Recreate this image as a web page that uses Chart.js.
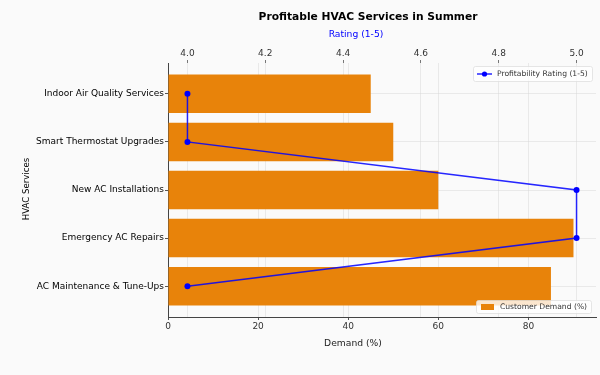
<!DOCTYPE html>
<html>
<head>
<meta charset="utf-8">
<script src="https://cdn.jsdelivr.net/npm/chart.js@4.4.1/dist/chart.umd.min.js"></script>
<style>
  html, body { margin: 0; padding: 0; background: #fafafa; }
  canvas { display: block; }
</style>
</head>
<body>
<canvas id="chart" width="600" height="375"></canvas>
<script>
// data
const services = [
  "Indoor Air Quality Services",
  "Smart Thermostat Upgrades",
  "New AC Installations",
  "Emergency AC Repairs",
  "AC Maintenance & Tune-Ups"
];
const demand = [45, 50, 60, 90, 85];
const rating = [4.0, 4.0, 5.0, 5.0, 4.0];
const demandTicks = [0, 20, 40, 60, 80];
const ratingTicks = [4.0, 4.2, 4.4, 4.6, 4.8, 5.0];

const FONT = "DejaVu Sans";
const ORANGE = "#e8830a";
const BLUE = "rgba(0,0,255,0.85)";
const GRID = "rgba(215,215,215,0.5)";

// titles, axis labels and the two in-plot legends
const textPlugin = {
  id: "texts",
  afterDraw(chart) {
    const ctx = chart.ctx;
    const area = chart.chartArea;
    ctx.save();
    ctx.textBaseline = "middle";
    ctx.textAlign = "center";

    ctx.fillStyle = "#000";
    ctx.font = "bold 10.7px '" + FONT + "'";
    ctx.fillText("Profitable HVAC Services in Summer", 368, 17);

    ctx.fillStyle = "#0000ff";
    ctx.font = "9.2px '" + FONT + "'";
    ctx.fillText("Rating (1-5)", 356, 35);

    ctx.fillStyle = "#222";
    ctx.fillText("Demand (%)", 353, 344);

    ctx.save();
    ctx.translate(27, 189);
    ctx.rotate(-Math.PI / 2);
    ctx.fillStyle = "#000";
    ctx.font = "8.6px '" + FONT + "'";
    ctx.fillText("HVAC Services", 0, 0);
    ctx.restore();

    // legend boxes
    ctx.font = "7.6px '" + FONT + "'";
    ctx.textAlign = "left";
    const box = (x, y, w, h) => {
      ctx.fillStyle = "rgba(255,255,255,0.8)";
      ctx.strokeStyle = "rgba(220,220,220,0.9)";
      ctx.lineWidth = 0.8;
      ctx.beginPath();
      ctx.roundRect(x + 0.5, y + 0.5, w, h, 2);
      ctx.fill();
      ctx.stroke();
    };

    let x = area.right - 123, y = area.top + 3;
    box(x, y, 119, 15);
    ctx.strokeStyle = BLUE;
    ctx.lineWidth = 1.5;
    ctx.beginPath();
    ctx.moveTo(x + 4, y + 8);
    ctx.lineTo(x + 19, y + 8);
    ctx.stroke();
    ctx.fillStyle = "#0000ff";
    ctx.beginPath();
    ctx.arc(x + 11.5, y + 8, 2.6, 0, Math.PI * 2);
    ctx.fill();
    ctx.fillStyle = "#333";
    ctx.fillText("Profitability Rating (1-5)", x + 24, y + 8);

    x = area.right - 120; y = area.bottom - 17;
    box(x, y, 115, 13);
    ctx.fillStyle = ORANGE;
    ctx.fillRect(x + 5, y + 4, 13, 6);
    ctx.fillStyle = "#333";
    ctx.fillText("Customer Demand (%)", x + 24, y + 7);

    ctx.restore();
  }
};

const ctx = document.getElementById("chart").getContext("2d");
new Chart(ctx, {
  data: {
    datasets: [
      {
        type: "line",
        label: "Profitability Rating (1-5)",
        data: rating.map((r, i) => ({ x: r, y: i })),
        indexAxis: "y",
        xAxisID: "x2",
        yAxisID: "y",
        borderColor: BLUE,
        backgroundColor: "#0000ff",
        borderWidth: 1.5,
        pointRadius: 3,
        pointBorderWidth: 0,
        tension: 0,
        order: 0
      },
      {
        type: "bar",
        label: "Customer Demand (%)",
        data: demand.map((d, i) => ({ x: d, y: i })),
        indexAxis: "y",
        xAxisID: "x",
        yAxisID: "y",
        backgroundColor: ORANGE,
        borderWidth: 0,
        grouped: false,
        categoryPercentage: 1,
        barPercentage: 0.8,
        order: 1
      }
    ]
  },
  options: {
    responsive: false,
    animation: false,
    layout: { padding: { right: 4, left: 0, top: 0, bottom: 0 } },
    plugins: {
      legend: { display: false },
      title: { display: false },
      tooltip: { enabled: false }
    },
    scales: {
      x: {
        type: "linear",
        position: "bottom",
        min: 0,
        max: 95,
        offset: false,
        z: 1,
        afterBuildTicks: (s) => { s.ticks = demandTicks.map(v => ({ value: v })); },
        afterFit: (s) => { s.height = 58; },
        grid: { color: GRID, tickColor: "#555", tickLength: 3, offset: false },
        border: { display: true, color: "#444", width: 1 },
        ticks: { color: "#333", padding: 1, font: { family: FONT, size: 9 } }
      },
      x2: {
        type: "linear",
        position: "top",
        min: 3.95,
        max: 5.05,
        offset: false,
        z: 1,
        afterBuildTicks: (s) => { s.ticks = ratingTicks.map(v => ({ value: v })); },
        afterFit: (s) => { s.height = 63; },
        grid: { color: GRID, tickColor: "#777", tickLength: 3, offset: false },
        border: { display: false },
        ticks: {
          color: "#333", padding: 1, font: { family: FONT, size: 9 },
          callback: (v) => v.toFixed(1)
        }
      },
      y: {
        type: "linear",
        reverse: true,
        min: -0.64,
        max: 4.64,
        offset: false,
        z: 1,
        afterBuildTicks: (s) => { s.ticks = services.map((_, i) => ({ value: i })); },
        afterFit: (s) => { s.width = 168; },
        grid: { color: GRID, tickColor: "#555", tickLength: 3, offset: false },
        border: { display: true, color: "#444", width: 1 },
        ticks: {
          color: "#000", padding: 1, font: { family: FONT, size: 9 },
          callback: (v) => services[v]
        }
      }
    }
  },
  plugins: [textPlugin]
});
</script>
</body>
</html>
